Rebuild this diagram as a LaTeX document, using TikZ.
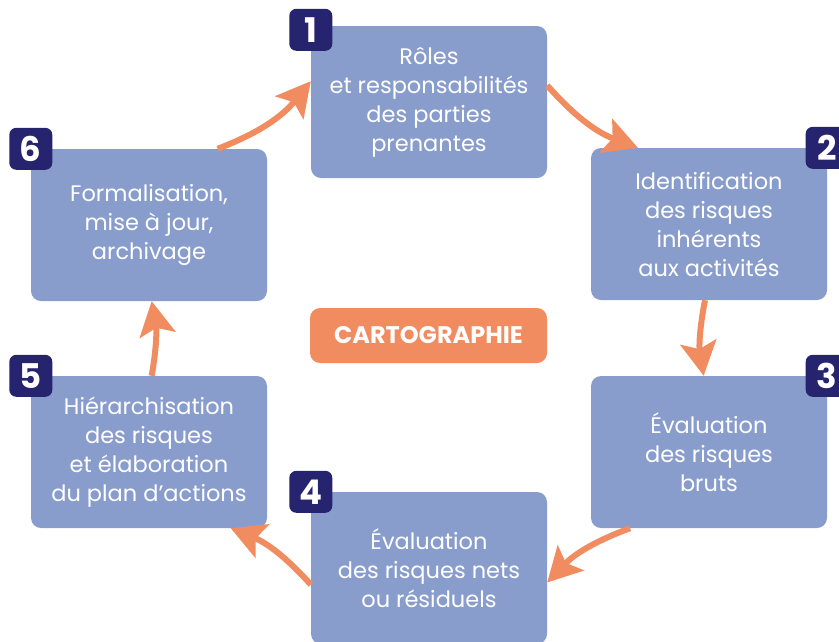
\documentclass[tikz,border=0pt]{standalone}
\usepackage{fontspec}
\setmainfont{Poppins}
\usepackage{tikz}
\usetikzlibrary{arrows.meta}
\definecolor{boxblue}{RGB}{137,157,205}
\definecolor{cycleorange}{RGB}{241,139,96}
\definecolor{badgenavy}{RGB}{38,36,110}
\tikzset{
  font={\fontsize{22.5pt}{29pt}\selectfont}}

\begin{document}
\begin{tikzpicture}[x=1pt,y=1pt]
\tikzstyle{every node}+=[inner sep=0pt]
\tikzstyle{stepbox}=[fill=boxblue, text=white, rounded corners=10pt, minimum width=236pt, minimum height=152pt, align=center]
\tikzstyle{badge}=[fill=badgenavy, text=white, rounded corners=7pt, minimum width=43pt, minimum height=42pt, font={\fontsize{34pt}{34pt}\selectfont\bfseries}]
\tikzstyle{cycle}=[draw=cycleorange, line width=6pt, -{Stealth[length=34pt,width=36pt,inset=7pt]}]
\useasboundingbox (0,0) rectangle (839,-641);
\node [stepbox] (b1) at (429,-102) {Rôles\\et responsabilités\\des parties\\prenantes};
\node [stepbox] (b2) at (709,-224) {Identification\\des risques\\inhérents\\aux activités};
\node [stepbox] (b3) at (709,-452) {Évaluation\\des risques\\bruts};
\node [stepbox] (b4) at (429,-568) {Évaluation\\des risques nets\\ou résiduels};
\node [stepbox] (b5) at (149,-452) {Hiérarchisation\\des risques\\et élaboration\\du plan d’actions};
\node [stepbox] (b6) at (149,-225) {Formalisation,\\mise à jour,\\archivage};
\node [badge] (n1) at ([yshift=-4pt]b1.north west) {1};
\node [badge] (n2) at (b2.north east) {2};
\node [badge] (n3) at (b3.north east) {3};
\node [badge] (n4) at (b4.north west) {4};
\node [badge] (n5) at (b5.north west) {5};
\node [badge] (n6) at (b6.north west) {6};
\node [fill=cycleorange, text=white, rounded corners=10pt, minimum width=237pt, minimum height=55pt, font={\fontsize{24pt}{24pt}\selectfont\bfseries}] (carto) at (428.5,-335.5) {CARTOGRAPHIE};
\draw [cycle] (b1.8) to[bend right=14] (b2.133);
\draw [cycle] (b2.267) to[bend right=10] (b3.94);
\draw [cycle] (b3.224) to[bend right=13] (b4.353);
\draw [cycle] (b4.188) to[bend right=13] (b5.317);
\draw [cycle] (b5.88) to[bend right=10] (b6.272);
\draw [cycle] (b6.48) to[bend right=15] (b1.170);
\end{tikzpicture}
\end{document}
